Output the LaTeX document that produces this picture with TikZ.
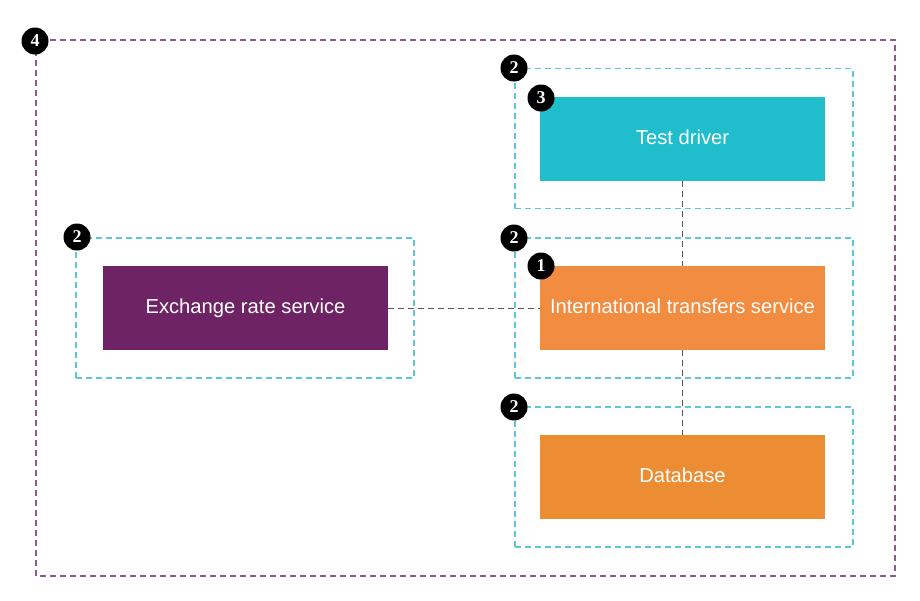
\documentclass[tikz,border=0pt]{standalone}
\usepackage{fontspec}
\setmainfont{Liberation Sans}
\newfontfamily\badgefont{Liberation Serif}
\definecolor{tealbox}{HTML}{20BDCC}
\definecolor{orangebox}{HTML}{F28C40}
\definecolor{dbbox}{HTML}{EC8D34}
\definecolor{plumbox}{HTML}{6E2464}
\definecolor{cyandash}{HTML}{5CC7D6}
\definecolor{purpledash}{HTML}{8F5A8F}
\definecolor{linkgray}{HTML}{555555}
\tikzset{
  svc/.style={rectangle, minimum width=285pt, minimum height=84pt, inner sep=0pt, text=white, font=\fontsize{20.2}{23}\selectfont},
  zone/.style={rectangle, draw=cyandash, line width=1.5pt, dash pattern=on 6pt off 4pt, minimum width=338pt, minimum height=140pt, inner sep=0pt},
  outer/.style={draw=purpledash, line width=1.5pt, dash pattern=on 6pt off 4pt},
  badge/.style={circle, fill=black, minimum size=27pt, inner sep=0pt, text=white, font=\badgefont\bfseries\fontsize{18}{18}\selectfont},
  link/.style={draw=linkgray, line width=1pt, dash pattern=on 6pt off 4pt}
}
\newcommand{\up}[1]{\raisebox{3pt}{#1}}
\begin{document}
\begin{tikzpicture}[x=1pt,y=-1pt]
\useasboundingbox (0,0) rectangle (920,600);
% outer boundary
\draw[outer] (36,40) rectangle (895,576);
% zones
\node[zone] (zTop) at (684,138.5) {};
\node[zone] (zMid) at (684,308) {};
\node[zone] (zBot) at (684,477) {};
\node[zone] (zLeft) at (245,308) {};
% boxes
\node[svc, fill=tealbox] (test) at (682.5,139) {\up{Test driver}};
\node[svc, fill=orangebox] (intl) at (682.5,308) {\up{International transfers service}};
\node[svc, fill=dbbox] (db) at (682.5,477) {\up{Database}};
\node[svc, fill=plumbox] (fx) at (245.5,308) {\up{Exchange rate service}};
% connectors
\draw[link] (test.south) -- (intl.north);
\draw[link] (intl.south) -- (db.north);
\draw[link] (fx.east) -- (intl.west);
% badges
\node[badge] (b4) at (35,41) {4};
\node[badge] (b2a) at (514,68) {2};
\node[badge] (b2b) at (514,238) {2};
\node[badge] (b2c) at (514,407) {2};
\node[badge] (b2d) at (77,237) {2};
\node[badge] (b3) at (541,98) {3};
\node[badge] (b1) at (541,266) {1};
\end{tikzpicture}
\end{document}
